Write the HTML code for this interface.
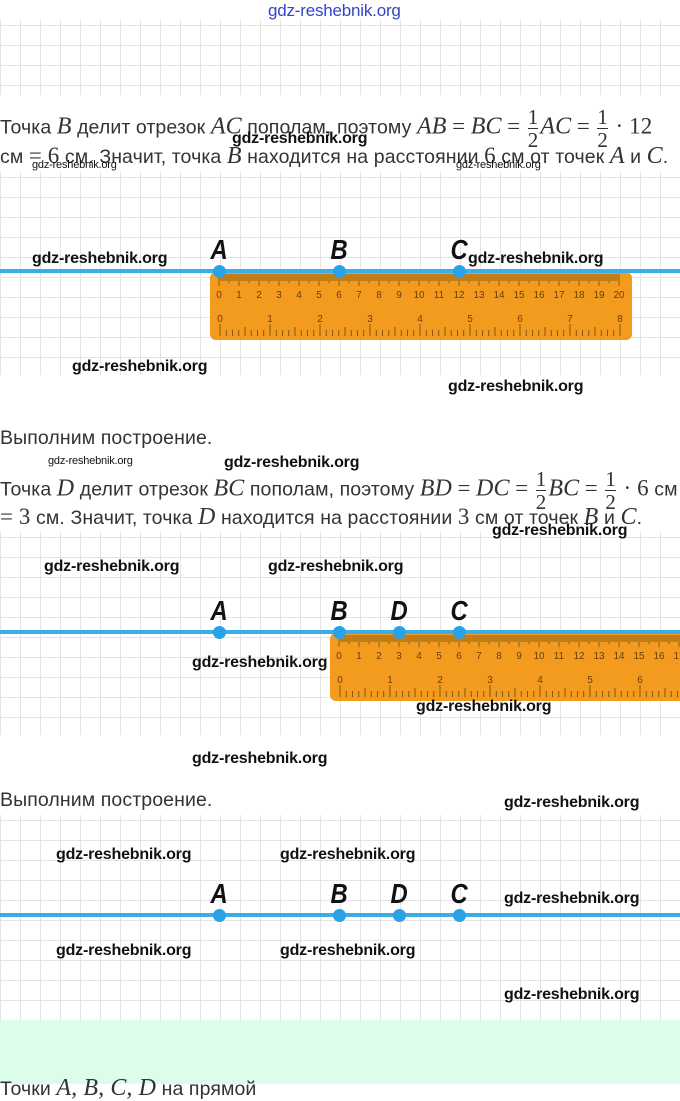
<!DOCTYPE html>
<html><head><meta charset="utf-8"><style>
body{margin:0;width:680px;height:1084px;position:relative;background:#fff;overflow:hidden;font-family:"Liberation Sans",sans-serif;color:#333}
.grid{position:absolute;left:0;width:680px;background-image:linear-gradient(#e4e4e4 1px,transparent 1px),linear-gradient(90deg,#e4e4e4 1px,transparent 1px);background-size:20px 20px;background-position:0 5px}
.t{position:absolute;left:0;font-size:19.5px;white-space:nowrap;line-height:20px;letter-spacing:0.1px}
.m{font-family:"Liberation Serif",serif;font-style:italic;font-size:24px}
.n{font-family:"Liberation Serif",serif;font-size:23px}
.fr{display:inline-block;vertical-align:middle;text-align:center;font-family:"Liberation Serif",serif;font-size:21px;line-height:22px;margin:0 2px}
.fr span{display:block;border-bottom:1px solid #333}
.w{position:absolute;font-size:16px;font-weight:bold;color:#111;white-space:nowrap;letter-spacing:-0.2px}
.line{position:absolute;left:0;width:680px;height:4px;background:#3aaee8}
.dot{position:absolute;width:13px;height:13px;border-radius:50%;background:#2aa3e6}
.lb{position:absolute;font:italic bold 28px "Liberation Sans",sans-serif;color:#111;transform:scaleX(0.85)}
</style></head><body>
<div class="w" style="left:268px;top:1px;color:#3344cc;font-size:17px;font-weight:normal">gdz-reshebnik.org</div>
<div class="grid" style="top:20px;height:75px"></div>
<div class="grid" style="top:172px;height:203px"></div>
<div class="grid" style="top:532px;height:203px"></div>
<div class="grid" style="top:815px;height:205px"></div>
<div style="position:absolute;top:1020px;left:0;width:680px;height:64px;background:#dcfde9"></div>
<div class="t" style="top:1078px">Точки <span class="m">A, B, C, D</span> на прямой</div>

<div class="t" style="top:106px">Точка <span class="m">B</span> делит отрезок <span class="m">AC</span> пополам, поэтому <span class="m">AB</span> <span class="n">=</span> <span class="m">BC</span> <span class="n">=</span> <span class="fr"><span>1</span>2</span><span class="m">AC</span> <span class="n">=</span> <span class="fr"><span>1</span>2</span> <span class="n">· 12</span></div>
<div class="t" style="top:146px">см <span class="n">= 6</span> см. Значит, точка <span class="m">B</span> находится на расстоянии <span class="n">6</span> см от точек <span class="m">A</span> и <span class="m">C</span>.</div>
<div class="w" style="left:232px;top:130px">gdz-reshebnik.org</div>
<div class="w" style="left:32px;top:159px;font-size:11px;font-weight:normal">gdz-reshebnik.org</div>
<div class="w" style="left:456px;top:159px;font-size:11px;font-weight:normal">gdz-reshebnik.org</div>

<svg style="position:absolute;left:0;top:0" width="680" height="1084">
<rect x="210" y="272" width="422" height="68" rx="6" fill="#f39b1e"/>
<rect x="330" y="633" width="400" height="68" rx="6" fill="#f39b1e"/>
</svg>
<svg id="ticks" style="position:absolute;left:0;top:0" width="680" height="1084"></svg>
<script>
var s=document.getElementById('ticks'),h='';
function ruler(x0,y0){
 for(var i=0;i<=200;i++){var x=x0+i*2;if(x>680)break;var L=i%10==0?12:(i%5==0?9:7);
  h+='<line x1="'+x+'" y1="'+y0+'" x2="'+x+'" y2="'+(y0+L)+'" stroke="#7a4e0a" stroke-width="0.8"/>';
  if(i%10==0)h+='<text x="'+x+'" y="'+(y0+24)+'" font-size="10" font-family="Liberation Sans" fill="#6b3f06" text-anchor="middle">'+(i/10)+'</text>';}
 for(var j=0;j<=64;j++){var x=x0+1+j*6.25;if(x>680)break;var L=j%8==0?12:(j%4==0?9:6);
  h+='<line x1="'+x+'" y1="'+(y0+62)+'" x2="'+x+'" y2="'+(y0+62-L)+'" stroke="#7a4e0a" stroke-width="0.9"/>';
  if(j%8==0)h+='<text x="'+x+'" y="'+(y0+48)+'" font-size="10" font-family="Liberation Sans" fill="#6b3f06" text-anchor="middle">'+(j/8)+'</text>';}
}
ruler(219,274);ruler(339,635);
s.innerHTML=h;
</script>
<div class="line" style="top:269px"></div>
<div class="line" style="top:630px"></div>
<div class="line" style="top:913px"></div>
<div class="dot" style="left:213px;top:265px"></div><div class="dot" style="left:333px;top:265px"></div><div class="dot" style="left:453px;top:265px"></div>
<div class="lb" style="left:209px;top:234px">A</div><div class="lb" style="left:329px;top:234px">B</div><div class="lb" style="left:449px;top:234px">C</div>
<div class="w" style="left:32px;top:250px">gdz-reshebnik.org</div>
<div class="w" style="left:468px;top:250px">gdz-reshebnik.org</div>
<div class="w" style="left:72px;top:358px">gdz-reshebnik.org</div>
<div class="w" style="left:448px;top:378px">gdz-reshebnik.org</div>

<div class="t" style="top:428px">Выполним построение.</div>
<div class="w" style="left:48px;top:455px;font-size:11px;font-weight:normal">gdz-reshebnik.org</div>
<div class="w" style="left:224px;top:454px">gdz-reshebnik.org</div>
<div class="t" style="top:468px">Точка <span class="m">D</span> делит отрезок <span class="m">BC</span> пополам, поэтому <span class="m">BD</span> <span class="n">=</span> <span class="m">DC</span> <span class="n">=</span> <span class="fr"><span>1</span>2</span><span class="m">BC</span> <span class="n">=</span> <span class="fr"><span>1</span>2</span> <span class="n">· 6</span> см</div>
<div class="t" style="top:507px"><span class="n">= 3</span> см. Значит, точка <span class="m">D</span> находится на расстоянии <span class="n">3</span> см от точек <span class="m">B</span> и <span class="m">C</span>.</div>
<div class="w" style="left:492px;top:522px">gdz-reshebnik.org</div>
<div class="w" style="left:44px;top:558px">gdz-reshebnik.org</div>
<div class="w" style="left:268px;top:558px">gdz-reshebnik.org</div>
<div class="dot" style="left:213px;top:626px"></div><div class="dot" style="left:333px;top:626px"></div><div class="dot" style="left:393px;top:626px"></div><div class="dot" style="left:453px;top:626px"></div>
<div class="lb" style="left:209px;top:595px">A</div><div class="lb" style="left:329px;top:595px">B</div><div class="lb" style="left:389px;top:595px">D</div><div class="lb" style="left:449px;top:595px">C</div>
<div class="w" style="left:192px;top:654px">gdz-reshebnik.org</div>
<div class="w" style="left:416px;top:698px">gdz-reshebnik.org</div>
<div class="w" style="left:192px;top:750px">gdz-reshebnik.org</div>

<div class="t" style="top:790px">Выполним построение.</div>
<div class="w" style="left:504px;top:794px">gdz-reshebnik.org</div>
<div class="w" style="left:56px;top:846px">gdz-reshebnik.org</div>
<div class="w" style="left:280px;top:846px">gdz-reshebnik.org</div>
<div class="dot" style="left:213px;top:909px"></div><div class="dot" style="left:333px;top:909px"></div><div class="dot" style="left:393px;top:909px"></div><div class="dot" style="left:453px;top:909px"></div>
<div class="lb" style="left:209px;top:878px">A</div><div class="lb" style="left:329px;top:878px">B</div><div class="lb" style="left:389px;top:878px">D</div><div class="lb" style="left:449px;top:878px">C</div>
<div class="w" style="left:504px;top:890px">gdz-reshebnik.org</div>
<div class="w" style="left:56px;top:942px">gdz-reshebnik.org</div>
<div class="w" style="left:280px;top:942px">gdz-reshebnik.org</div>
<div class="w" style="left:504px;top:986px">gdz-reshebnik.org</div>
</body></html>
